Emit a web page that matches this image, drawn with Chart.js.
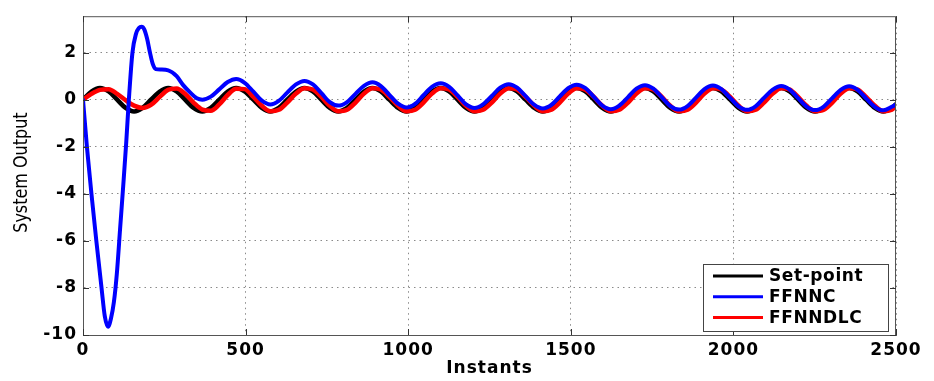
<!DOCTYPE html>
<html>
<head>
<meta charset="utf-8">
<script src="https://cdn.jsdelivr.net/npm/chart.js@4.4.1/dist/chart.umd.min.js"></script>
<style>
  html, body { margin: 0; padding: 0; background: #fff; }
</style>
</head>
<body>
<canvas id="chart" width="934" height="381"></canvas>
<script>
// sampling instants shared by set-point and FFNNDLC
const instants = [
    0, 26, 52, 79, 105, 131, 157, 183, 209, 236, 262, 288, 314, 340, 367, 393,
    419, 445, 471, 497, 524, 550, 576, 602, 628, 655, 681, 707, 733, 759, 785, 812,
    838, 864, 890, 916, 942, 969, 995, 1021, 1047, 1073, 1100, 1126, 1152, 1178, 1204, 1230,
    1257, 1283, 1309, 1335, 1361, 1388, 1414, 1440, 1466, 1492, 1518, 1545, 1571, 1597, 1623, 1649,
    1676, 1702, 1728, 1754, 1780, 1806, 1833, 1859, 1885, 1911, 1937, 1963, 1990, 2016, 2042, 2068,
    2094, 2121, 2147, 2173, 2199, 2225, 2251, 2278, 2304, 2330, 2356, 2382, 2408, 2435, 2461, 2487,
    2500
];

const setPoint = [
    0, 0.35, 0.5, 0.35, 0, -0.35, -0.5, -0.35,
    0, 0.35, 0.5, 0.35, 0, -0.35, -0.5, -0.35,
    0, 0.35, 0.5, 0.35, 0, -0.35, -0.5, -0.35,
    0, 0.35, 0.5, 0.35, 0, -0.35, -0.5, -0.35,
    0, 0.35, 0.5, 0.35, 0, -0.35, -0.5, -0.35,
    0, 0.35, 0.5, 0.35, 0, -0.35, -0.5, -0.35,
    0, 0.35, 0.5, 0.35, 0, -0.35, -0.5, -0.35,
    0, 0.35, 0.5, 0.35, 0, -0.35, -0.5, -0.35,
    0, 0.35, 0.5, 0.35, 0, -0.35, -0.5, -0.35,
    0, 0.35, 0.5, 0.35, 0, -0.35, -0.5, -0.35,
    0, 0.35, 0.5, 0.35, 0, -0.35, -0.5, -0.35,
    0, 0.35, 0.5, 0.35, 0, -0.35, -0.5, -0.35,
    -0.19
];

const ffnndlc = [
    0, 0.25, 0.42, 0.45, 0.25, -0.02, -0.25, -0.35,
    -0.22, 0.12, 0.42, 0.48, 0.25, -0.12, -0.42, -0.47,
    -0.2, 0.2, 0.47, 0.45, 0.12, -0.26, -0.49, -0.43,
    -0.12, 0.26, 0.49, 0.43, 0.12, -0.26, -0.49, -0.43,
    -0.12, 0.26, 0.49, 0.43, 0.12, -0.26, -0.49, -0.43,
    -0.12, 0.26, 0.49, 0.43, 0.12, -0.26, -0.49, -0.43,
    -0.12, 0.26, 0.49, 0.43, 0.12, -0.26, -0.49, -0.43,
    -0.12, 0.26, 0.49, 0.43, 0.12, -0.26, -0.49, -0.43,
    -0.12, 0.26, 0.49, 0.43, 0.12, -0.26, -0.49, -0.43,
    -0.12, 0.26, 0.49, 0.43, 0.12, -0.26, -0.49, -0.43,
    -0.12, 0.26, 0.49, 0.43, 0.12, -0.26, -0.49, -0.43,
    -0.12, 0.26, 0.49, 0.43, 0.12, -0.26, -0.49, -0.43,
    -0.25
];

// FFNNC transient is sampled more densely, then joins the common grid at 367
const ffnncStartInstants = [
    0, 12, 26, 41, 57, 67, 77, 86, 95, 104, 114, 124, 133, 141, 152, 163, 172,
    180, 188, 197, 206, 215, 224, 240, 262, 288, 308, 330, 350
];
const ffnncInstants = ffnncStartInstants.concat(instants.slice(14));

const ffnnc = [
    0, -2, -4, -6, -8, -9.2, -9.65, -9.3, -8.6, -7.4, -5.5, -3.6, -1.8, 0, 2, 2.8, 3.05,
    3.1, 3.0, 2.6, 2.0, 1.5, 1.3, 1.28, 1.25, 1.0, 0.62, 0.3, 0.06,
    0.0, 0.13, 0.44, 0.75, 0.88, 0.72, 0.34, -0.04,
    -0.20, -0.05, 0.30, 0.65, 0.80, 0.65, 0.28, -0.10,
    -0.25, -0.10, 0.25, 0.59, 0.74, 0.58, 0.21, -0.17,
    -0.33, -0.18, 0.19, 0.55, 0.70, 0.55, 0.18, -0.20,
    -0.35, -0.20, 0.16, 0.51, 0.66, 0.51, 0.15, -0.22,
    -0.37, -0.22, 0.14, 0.49, 0.64, 0.49, 0.12, -0.25,
    -0.40, -0.25, 0.11, 0.47, 0.62, 0.47, 0.10, -0.27,
    -0.42, -0.27, 0.09, 0.45, 0.60, 0.45, 0.08, -0.28,
    -0.43, -0.28, 0.08, 0.43, 0.58, 0.43, 0.07, -0.29,
    -0.44, -0.29, 0.07, 0.42, 0.57, 0.42, 0.06, -0.30,
    -0.45, -0.30,
    -0.20
];

const xTicks = [0, 500, 1000, 1500, 2000, 2500];
const yTicks = [-10, -8, -6, -4, -2, 0, 2];
const seriesLabels = ['Set-point', 'FFNNC', 'FFNNDLC'];
const seriesColors = ['#000000', '#0000ff', '#ff0000'];
const xTitle = 'Instants';
const yTitle = 'System Output';

const fontFamily = "'DejaVu Sans', sans-serif";
const toPoints = (xs, ys) => ys.map((y, i) => ({ x: xs[i], y: y }));

// MATLAB-ish frame: box, inward ticks, legend, rotated y label
const matlabFrame = {
    id: 'matlabFrame',
    beforeDraw(chart) {
        chart.ctx.letterSpacing = '1px';
    },
    afterDraw(chart) {
        const ctx = chart.ctx;
        const a = chart.chartArea;
        const xs = chart.scales.x, ys = chart.scales.y;
        ctx.save();
        ctx.letterSpacing = '0px';

        // box
        ctx.strokeStyle = '#555';
        ctx.lineWidth = 1;
        ctx.strokeRect(a.left + 0.5, a.top + 0.5, a.right - a.left - 1, a.bottom - a.top);

        // inward tick marks on all four sides
        ctx.strokeStyle = '#333';
        ctx.beginPath();
        xs.ticks.forEach(t => {
            const px = Math.round(xs.getPixelForValue(t.value)) + 0.5;
            ctx.moveTo(px, a.bottom); ctx.lineTo(px, a.bottom - 6);
            ctx.moveTo(px, a.top); ctx.lineTo(px, a.top + 6);
        });
        ys.ticks.forEach(t => {
            const py = Math.round(ys.getPixelForValue(t.value)) + 0.5;
            ctx.moveTo(a.left, py); ctx.lineTo(a.left + 6, py);
            ctx.moveTo(a.right, py); ctx.lineTo(a.right - 6, py);
        });
        ctx.stroke();

        // legend box, bottom right inside the axes
        const lw = 185, lh = 67;
        const lx = a.right - 8 - lw, ly = a.bottom - 4 - lh;
        ctx.fillStyle = '#fff';
        ctx.fillRect(lx, ly, lw, lh);
        ctx.strokeStyle = '#444';
        ctx.strokeRect(lx + 0.5, ly + 0.5, lw, lh);
        ctx.font = 'bold 17px ' + fontFamily;
        ctx.letterSpacing = '0.6px';
        ctx.textBaseline = 'middle';
        ctx.textAlign = 'left';
        chart.data.datasets.forEach((ds, i) => {
            const ry = ly + 12 + i * 20.7;
            ctx.strokeStyle = ds.borderColor;
            ctx.lineWidth = 3;
            ctx.beginPath();
            ctx.moveTo(lx + 10, ry); ctx.lineTo(lx + 60, ry);
            ctx.stroke();
            ctx.fillStyle = '#000';
            ctx.fillText(ds.label, lx + 66, ry + 1);
        });

        // y axis title
        ctx.letterSpacing = '0px';
        ctx.translate(22, (a.top + a.bottom) / 2 - 3);
        ctx.rotate(-Math.PI / 2);
        ctx.scale(1, 1.25);
        ctx.font = '16px ' + fontFamily;
        ctx.textAlign = 'center';
        ctx.fillStyle = '#000';
        ctx.fillText(yTitle, 0, 0);
        ctx.restore();
    }
};

const gridStyle = { color: '#8a8a8a', lineWidth: 1, drawTicks: false };
const borderStyle = { color: '#555', width: 1, dash: [1.5, 4] };
const tickFont = { family: fontFamily, size: 17, weight: 'bold' };

new Chart(document.getElementById('chart'), {
    type: 'line',
    data: {
        datasets: [
            { label: seriesLabels[0], data: toPoints(instants, setPoint), borderColor: seriesColors[0], borderWidth: 4.5, order: 2 },
            { label: seriesLabels[1], data: toPoints(ffnncInstants, ffnnc), borderColor: seriesColors[1], borderWidth: 4, order: 0 },
            { label: seriesLabels[2], data: toPoints(instants, ffnndlc), borderColor: seriesColors[2], borderWidth: 4.5, order: 1 }
        ]
    },
    options: {
        responsive: false,
        animation: false,
        layout: { padding: { top: 7, right: 38, bottom: 0, left: 0 } },
        elements: {
            point: { radius: 0 },
            line: { cubicInterpolationMode: 'monotone', borderCapStyle: 'round', borderJoinStyle: 'round' }
        },
        plugins: {
            legend: { display: false },
            tooltip: { enabled: false }
        },
        scales: {
            x: {
                type: 'linear',
                min: 0,
                max: 2500,
                afterFit: s => { s.height = 46; },
                afterBuildTicks: s => { s.ticks = xTicks.map(v => ({ value: v })); },
                ticks: { color: '#000', padding: 5, maxRotation: 0, font: tickFont, callback: v => String(v) },
                grid: gridStyle,
                border: borderStyle,
                title: {
                    display: true,
                    text: xTitle,
                    color: '#000',
                    font: { family: fontFamily, size: 17, weight: 'bold' },
                    padding: { top: 0, bottom: 2 }
                }
            },
            y: {
                min: -10,
                max: 3.55,
                afterFit: s => { s.width = 83; },
                afterBuildTicks: s => { s.ticks = yTicks.map(v => ({ value: v })); },
                ticks: { color: '#000', padding: 6, font: tickFont, callback: v => String(v) },
                grid: gridStyle,
                border: borderStyle
            }
        }
    },
    plugins: [matlabFrame]
});
</script>
</body>
</html>
